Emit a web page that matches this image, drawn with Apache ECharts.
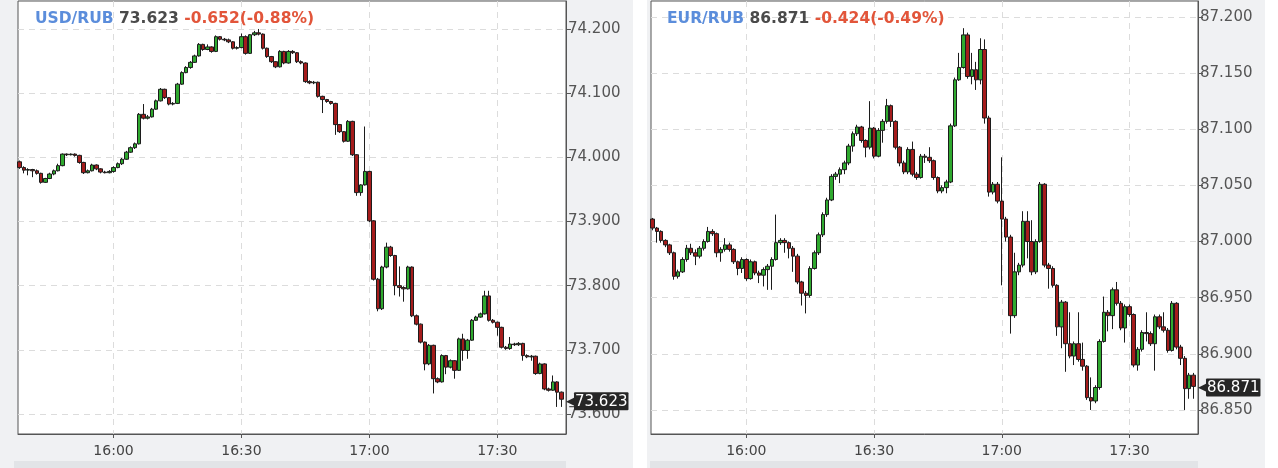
<!DOCTYPE html>
<html>
<head>
<meta charset="utf-8">
<script src="https://cdn.jsdelivr.net/npm/echarts@6/dist/echarts.min.js"></script>
<style>
html,body{margin:0;padding:0;background:#fff;}
#chart{width:1278px;height:468px;}
</style>
</head>
<body>
<div id="chart"></div>
<script>
// ---- data ----
// 1-minute candles, first candle at 15:38 (minute -22 relative to 16:00)
const firstMinute = -22;
// [open, close, low, high]
const usdCandles = [
[73.993,73.984,73.982,73.995],[73.984,73.980,73.975,73.986],[73.980,73.981,73.972,73.983],[73.981,73.979,73.969,73.982],
[73.979,73.975,73.973,73.981],[73.975,73.961,73.959,73.976],[73.961,73.967,73.960,73.968],[73.967,73.974,73.966,73.976],
[73.974,73.979,73.972,73.981],[73.979,73.987,73.978,73.990],[73.987,74.005,73.986,74.006],[74.005,74.004,74.002,74.006],
[74.004,74.005,74.003,74.006],[74.005,74.003,74.001,74.006],[74.003,73.992,73.990,74.004],[73.992,73.976,73.974,73.993],
[73.976,73.979,73.975,73.981],[73.979,73.988,73.978,73.990],[73.988,73.982,73.980,73.989],[73.982,73.977,73.975,73.983],
[73.977,73.976,73.975,73.979],[73.976,73.978,73.975,73.980],
[73.978,73.984,73.976,73.986],[73.984,73.990,73.983,73.992],[73.990,73.997,73.988,73.999],[73.997,74.008,73.996,74.010],
[74.008,74.015,74.007,74.017],[74.015,74.021,74.013,74.023],[74.021,74.067,74.020,74.069],[74.067,74.061,74.059,74.083],
[74.061,74.063,74.059,74.066],[74.063,74.075,74.062,74.077],[74.075,74.088,74.074,74.090],[74.088,74.106,74.087,74.108],
[74.106,74.093,74.091,74.107],[74.093,74.083,74.081,74.094],[74.083,74.084,74.081,74.086],[74.084,74.114,74.083,74.116],
[74.114,74.132,74.113,74.134],[74.132,74.140,74.131,74.142],[74.140,74.148,74.138,74.150],[74.148,74.158,74.147,74.160],
[74.158,74.176,74.157,74.178],[74.176,74.168,74.166,74.177],[74.168,74.172,74.167,74.176],[74.172,74.165,74.163,74.173],
[74.165,74.188,74.164,74.190],[74.188,74.184,74.182,74.189],[74.184,74.183,74.181,74.186],[74.183,74.180,74.178,74.185],
[74.180,74.170,74.168,74.181],[74.170,74.171,74.168,74.173],[74.171,74.188,74.170,74.193],[74.188,74.162,74.160,74.190],
[74.162,74.191,74.161,74.192],[74.191,74.194,74.189,74.197],[74.194,74.192,74.190,74.200],[74.192,74.170,74.168,74.193],
[74.170,74.157,74.155,74.171],[74.157,74.149,74.147,74.158],[74.149,74.141,74.139,74.150],[74.141,74.165,74.140,74.167],
[74.165,74.147,74.145,74.166],[74.147,74.165,74.146,74.167],[74.165,74.163,74.161,74.167],[74.163,74.149,74.147,74.164],
[74.149,74.147,74.145,74.151],[74.147,74.118,74.116,74.148],[74.118,74.116,74.114,74.120],[74.116,74.117,74.114,74.119],
[74.117,74.095,74.093,74.118],[74.095,74.090,74.069,74.096],[74.090,74.087,74.085,74.091],[74.087,74.084,74.082,74.088],
[74.084,74.051,74.035,74.085],[74.051,74.040,74.038,74.052],[74.040,74.025,74.023,74.041],[74.025,74.056,74.024,74.058],
[74.056,74.004,74.002,74.057],[74.004,73.945,73.940,74.005],[73.945,73.957,73.940,73.958],[73.957,73.978,73.956,74.048],
[73.978,73.901,73.899,73.979],[73.901,73.810,73.808,73.902],[73.810,73.764,73.760,73.812],[73.764,73.829,73.762,73.831],
[73.829,73.860,73.827,73.867],[73.860,73.847,73.845,73.862],[73.847,73.800,73.785,73.848],[73.800,73.797,73.783,73.830],
[73.797,73.795,73.775,73.799],[73.795,73.829,73.794,73.831],[73.829,73.753,73.751,73.830],[73.753,73.740,73.738,73.755],
[73.740,73.712,73.710,73.741],[73.712,73.678,73.668,73.713],[73.678,73.707,73.676,73.709],[73.707,73.655,73.632,73.708],
[73.655,73.650,73.648,73.657],[73.650,73.691,73.649,73.693],[73.691,73.673,73.662,73.692],[73.673,73.683,73.671,73.685],
[73.683,73.668,73.655,73.684],[73.668,73.717,73.667,73.719],[73.717,73.699,73.683,73.725],[73.699,73.715,73.686,73.717],
[73.715,73.746,73.714,73.748],[73.746,73.751,73.745,73.753],[73.751,73.756,73.750,73.758],[73.756,73.784,73.755,73.792],
[73.784,73.746,73.744,73.792],[73.746,73.743,73.741,73.748],[73.743,73.735,73.722,73.744],[73.735,73.704,73.702,73.736],
[73.704,73.702,73.700,73.706],[73.702,73.709,73.700,73.720],[73.709,73.708,73.706,73.711],[73.708,73.710,73.706,73.712],
[73.710,73.691,73.683,73.711],[73.691,73.689,73.687,73.693],[73.689,73.690,73.683,73.692],[73.690,73.663,73.661,73.691],
[73.663,73.678,73.662,73.680],[73.678,73.639,73.637,73.679],[73.639,73.637,73.635,73.641],[73.637,73.650,73.636,73.660],
[73.650,73.634,73.611,73.651],[73.634,73.623,73.611,73.635]
];
const eurCandles = [
[87.020,87.012,87.010,87.021],[87.012,87.009,86.999,87.013],[87.009,87.001,86.999,87.010],[87.001,86.997,86.995,87.002],
[86.997,86.990,86.988,86.998],[86.990,86.969,86.966,86.991],[86.969,86.973,86.967,86.975],[86.973,86.984,86.972,86.986],
[86.984,86.994,86.982,86.997],[86.994,86.990,86.988,86.998],[86.990,86.987,86.979,86.993],[86.987,86.994,86.985,86.996],
[86.994,87.000,86.992,87.002],[87.000,87.009,86.999,87.013],[87.009,87.007,87.005,87.011],[87.007,86.990,86.986,87.008],
[86.990,86.993,86.982,86.995],[86.993,86.997,86.991,87.003],[86.997,86.993,86.991,86.999],[86.993,86.982,86.980,86.994],
[86.982,86.976,86.970,86.983],[86.976,86.984,86.972,86.986],
[86.984,86.967,86.965,86.985],[86.967,86.982,86.966,86.984],[86.982,86.972,86.970,86.983],[86.972,86.970,86.963,86.974],
[86.970,86.975,86.960,86.977],[86.975,86.978,86.957,86.980],[86.978,86.984,86.957,86.986],[86.984,86.999,86.983,87.024],
[86.999,87.001,86.997,87.003],[87.001,86.999,86.990,87.003],[86.999,86.994,86.985,87.000],[86.994,86.987,86.973,86.996],
[86.987,86.964,86.962,86.989],[86.964,86.954,86.943,86.965],[86.954,86.952,86.936,86.956],[86.952,86.976,86.950,86.978],
[86.976,86.990,86.975,86.992],[86.990,87.006,86.988,87.008],[87.006,87.024,87.004,87.026],[87.024,87.037,87.022,87.039],
[87.037,87.058,87.036,87.060],[87.058,87.060,87.055,87.062],[87.060,87.064,87.052,87.066],[87.064,87.070,87.060,87.072],
[87.070,87.085,87.068,87.087],[87.085,87.096,87.080,87.098],[87.096,87.102,87.094,87.104],[87.102,87.090,87.088,87.103],
[87.090,87.084,87.075,87.091],[87.084,87.101,87.082,87.125],[87.101,87.076,87.074,87.102],[87.076,87.099,87.075,87.101],
[87.099,87.107,87.088,87.109],[87.107,87.121,87.105,87.127],[87.121,87.107,87.102,87.122],[87.107,87.084,87.082,87.108],
[87.084,87.070,87.067,87.085],[87.070,87.062,87.060,87.072],[87.062,87.082,87.060,87.084],[87.082,87.060,87.058,87.089],
[87.060,87.057,87.055,87.062],[87.057,87.076,87.056,87.078],[87.076,87.075,87.070,87.078],[87.075,87.072,87.070,87.084],
[87.072,87.057,87.055,87.073],[87.057,87.045,87.043,87.058],[87.045,87.048,87.043,87.050],[87.048,87.053,87.043,87.055],
[87.053,87.103,87.052,87.105],[87.103,87.144,87.102,87.146],[87.144,87.155,87.143,87.168],[87.155,87.184,87.154,87.190],
[87.184,87.147,87.145,87.186],[87.147,87.153,87.140,87.168],[87.153,87.144,87.135,87.160],[87.144,87.171,87.140,87.181],
[87.171,87.110,87.105,87.180],[87.110,87.044,87.040,87.112],[87.044,87.051,87.042,87.053],[87.051,87.036,87.034,87.053],
[87.036,87.020,86.961,87.075],[87.020,87.004,87.000,87.022],[87.004,86.934,86.918,87.006],[86.934,86.973,86.932,86.990],
[86.973,86.979,86.970,86.981],[86.979,87.018,86.977,87.027],[87.018,87.000,86.985,87.027],[87.000,86.973,86.970,87.019],
[86.973,87.000,86.971,87.002],[87.000,87.051,86.999,87.053],[87.051,86.979,86.977,87.052],[86.979,86.976,86.958,86.981],
[86.976,86.961,86.959,86.978],[86.961,86.924,86.916,86.962],[86.924,86.946,86.905,86.948],[86.946,86.909,86.884,86.947],
[86.909,86.898,86.896,86.937],[86.898,86.909,86.890,86.911],[86.909,86.895,86.893,86.937],[86.895,86.889,86.885,86.910],
[86.889,86.861,86.859,86.890],[86.861,86.858,86.850,86.879],[86.858,86.870,86.856,86.872],[86.870,86.911,86.868,86.913],
[86.911,86.937,86.910,86.951],[86.937,86.934,86.920,86.939],[86.934,86.957,86.922,86.959],[86.957,86.945,86.943,86.964],
[86.945,86.923,86.921,86.947],[86.923,86.942,86.910,86.944],[86.942,86.935,86.933,86.944],[86.935,86.890,86.888,86.936],
[86.890,86.904,86.885,86.906],[86.904,86.919,86.902,86.921],[86.919,86.918,86.911,86.937],[86.918,86.909,86.907,86.920],
[86.909,86.933,86.885,86.935],[86.933,86.924,86.922,86.935],[86.924,86.921,86.919,86.937],[86.921,86.903,86.901,86.923],
[86.903,86.945,86.902,86.947],[86.945,86.906,86.904,86.946],[86.906,86.896,86.890,86.908],[86.896,86.869,86.850,86.898],
[86.869,86.881,86.860,86.883],[86.881,86.871,86.860,86.883]
];
const timeTicks = [0, 30, 60, 90];
const timeLabels = ['16:00', '16:30', '17:00', '17:30'];
const usdTicks = [73.6, 73.7, 73.8, 73.9, 74.0, 74.1, 74.2];
const eurTicks = [86.85, 86.9, 86.95, 87.0, 87.05, 87.1, 87.15, 87.2];
const usdHeader = {name: 'USD/RUB', last: '73.623', change: '-0.652(-0.88%)'};
const eurHeader = {name: 'EUR/RUB', last: '86.871', change: '-0.424(-0.49%)'};
const usdLast = 73.623;
const eurLast = 86.871;

// ---- chart ----
const FONT = 'DejaVu Sans';
const toSeries = arr => arr.map((c, i) => [firstMinute + i, c[0], c[1], c[2], c[3]]);

function header(h, left) {
  const st = (color) => ({color: color, fontFamily: FONT, fontSize: 15.5, fontWeight: 'bold'});
  return {
    left: left, top: 11, padding: 0,
    text: '{n|' + h.name + '} {p|' + h.last + '} {c|' + h.change + '}',
    textStyle: {
      fontFamily: FONT, fontSize: 15.5, fontWeight: 'bold',
      rich: {n: st('#5b8ddb'), p: st('#4a4a4a'), c: st('#e2553a')}
    }
  };
}

const dashed = {type: [6, 5], color: '#dcdcdc', width: 1};

function xAxisFor(gi) {
  return {
    type: 'value', gridIndex: gi, min: -22.4, max: 106.1,
    axisLine: {show: true, onZero: false, lineStyle: {color: '#555', width: 1}},
    axisTick: {show: true, customValues: timeTicks, length: 4, lineStyle: {color: '#555'}},
    axisLabel: {
      customValues: timeTicks,
      formatter: v => timeLabels[timeTicks.indexOf(v)] || '',
      color: '#444', fontSize: 14, fontFamily: FONT, margin: 10
    },
    splitLine: {show: true, lineStyle: dashed}
  };
}
function yAxisFor(gi, ticks, min, max) {
  return {
    type: 'value', gridIndex: gi, position: 'right', min: min, max: max,
    axisLine: {show: true, onZero: false, lineStyle: {color: '#555', width: 1}},
    axisTick: {show: true, customValues: ticks, length: 5, lineStyle: {color: '#555'}},
    axisLabel: {
      customValues: ticks,
      formatter: v => Number(v).toFixed(3),
      color: '#555', fontSize: 15, fontFamily: FONT, margin: 2
    },
    splitLine: {show: true, lineStyle: dashed}
  };
}
function candleSeries(gi, data, last) {
  return {
    type: 'candlestick', xAxisIndex: gi, yAxisIndex: gi,
    data: toSeries(data),
    barWidth: 4,
    itemStyle: {
      color: '#2fa92f', color0: '#a51c1c',
      borderColor: '#1c1c1c', borderColor0: '#1c1c1c', borderWidth: 1
    },
    markLine: {
      silent: true, symbol: 'none', animation: false,
      lineStyle: {color: 'rgba(0,0,0,0)', width: 0, type: 'solid'},
      data: [{yAxis: last}],
      label: {
        show: true, position: 'end', distance: 0,
        formatter: '{a|◀}{b|' + last.toFixed(3) + '}',
        rich: {
          a: {color: '#262626', fontSize: 13, fontFamily: FONT, padding: [0, -2, 0, 0]},
          b: {color: '#fff', backgroundColor: '#262626', fontSize: 15, fontFamily: FONT,
              padding: [2, 1, 1, 1], borderRadius: 1}
        }
      }
    }
  };
}

const chart = echarts.init(document.getElementById('chart'), null, {renderer: 'canvas'});
chart.setOption({
  animation: false,
  backgroundColor: '#ffffff',
  graphic: [
    {type: 'rect', z: -10, silent: true, shape: {x: 0, y: 0, width: 633, height: 468}, style: {fill: '#f0f1f3'}},
    {type: 'rect', z: -10, silent: true, shape: {x: 647, y: 0, width: 618, height: 468}, style: {fill: '#f0f1f3'}},
    {type: 'rect', z: -9, silent: true, shape: {x: 14, y: 461, width: 552, height: 7}, style: {fill: '#e2e4e7'}},
    {type: 'rect', z: -9, silent: true, shape: {x: 650, y: 461, width: 548, height: 7}, style: {fill: '#e2e4e7'}}
  ],
  title: [header(usdHeader, 35), header(eurHeader, 667)],
  grid: [
    {left: 18, top: 1, width: 548, height: 433, show: true, backgroundColor: '#ffffff', borderColor: '#555', borderWidth: 1},
    {left: 651, top: 1, width: 547, height: 433, show: true, backgroundColor: '#ffffff', borderColor: '#555', borderWidth: 1}
  ],
  xAxis: [xAxisFor(0), xAxisFor(1)],
  yAxis: [
    yAxisFor(0, usdTicks, 73.5688, 74.2436),
    yAxisFor(1, eurTicks, 86.8286, 87.2142)
  ],
  series: [candleSeries(0, usdCandles, usdLast), candleSeries(1, eurCandles, eurLast)]
});
</script>
</body>
</html>
